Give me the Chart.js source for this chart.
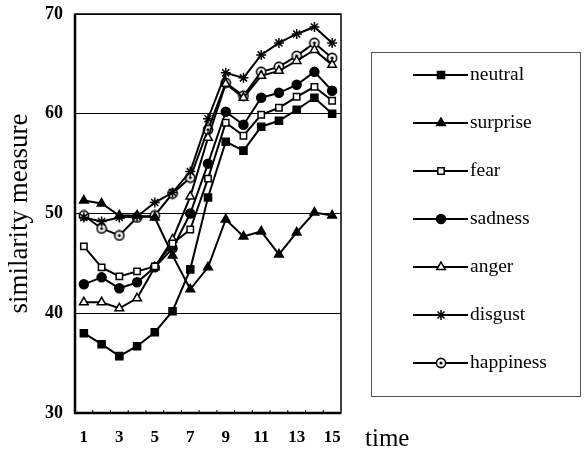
<!DOCTYPE html>
<html>
<head>
<meta charset="utf-8">
<script src="https://cdn.jsdelivr.net/npm/chart.js@4.4.0/dist/chart.umd.min.js"></script>
<style>
  html, body { margin: 0; padding: 0; background: #fff; }
  #wrap { width: 584px; height: 452px; }
</style>
</head>
<body>
<div id="wrap"><canvas id="myChart"></canvas></div>
<script>
// Données
const times = ['1', '2', '3', '4', '5', '6', '7', '8', '9', '10', '11', '12', '13', '14', '15'];
const neutral   = [38.0, 36.9, 35.7, 36.7, 38.1, 40.2, 44.4, 51.6, 57.2, 56.3, 58.7, 59.3, 60.4, 61.6, 60.0];
const surprise  = [51.3, 51.0, 49.8, 49.8, 49.6, 45.8, 42.4, 44.6, 49.4, 47.7, 48.2, 45.9, 48.1, 50.1, 49.8];
const fear      = [46.7, 44.6, 43.7, 44.2, 44.7, 47.0, 48.4, 53.5, 59.1, 57.8, 59.9, 60.6, 61.7, 62.7, 61.3];
const sadness   = [42.9, 43.6, 42.5, 43.1, 44.6, 46.5, 50.0, 55.0, 60.2, 58.9, 61.6, 62.1, 62.9, 64.2, 62.3];
const anger     = [41.1, 41.1, 40.5, 41.5, 44.6, 47.4, 51.7, 57.6, 63.0, 61.6, 63.8, 64.3, 65.3, 66.4, 64.9];
const disgust   = [49.6, 49.2, 49.6, 49.7, 51.1, 52.1, 54.2, 59.5, 64.1, 63.6, 65.9, 67.1, 68.0, 68.7, 67.1];
const happiness = [49.8, 48.5, 47.8, 49.6, 49.8, 52.0, 53.6, 58.4, 63.1, 61.8, 64.2, 64.7, 65.8, 67.1, 65.6];
const yTicks = [30, 40, 50, 60, 70];

const SERIF = '"Liberation Serif", "DejaVu Serif", serif';

// cercle avec un point au centre (happiness)
function dotCircle() {
    const c = document.createElement('canvas');
    c.width = 12; c.height = 12;
    const g = c.getContext('2d');
    g.beginPath(); g.arc(6, 6, 4.6, 0, Math.PI * 2);
    g.fillStyle = '#fff'; g.fill();
    g.lineWidth = 1.6; g.strokeStyle = '#000'; g.stroke();
    g.beginPath(); g.arc(6, 6, 1.6, 0, Math.PI * 2);
    g.fillStyle = '#000'; g.fill();
    return c;
}

function serie(label, values, style, fill, radius) {
    return {
        label: label,
        data: values,
        borderColor: '#000',
        backgroundColor: fill,
        borderWidth: 2,
        pointStyle: style,
        pointRadius: radius,
        pointBorderColor: '#000',
        pointBackgroundColor: fill,
        pointBorderWidth: 1.5,
        tension: 0,
    };
}

const data = {
    labels: times,
    datasets: [
        serie('neutral', neutral, 'rect', '#000', 5),
        serie('surprise', surprise, 'triangle', '#000', 5),
        serie('fear', fear, 'rect', '#fff', 4.5),
        serie('sadness', sadness, 'circle', '#000', 4.5),
        serie('anger', anger, 'triangle', '#fff', 5),
        serie('disgust', disgust, 'star', '#000', 5),
        serie('happiness', happiness, dotCircle(), '#fff', 5),
    ]
};

// cadre, petites graduations, légende encadrée et « time »
const decor = {
    id: 'decor',
    afterDraw(chart) {
        const ctx = chart.ctx;
        const a = chart.chartArea;
        const xs = chart.scales.x;
        ctx.save();
        ctx.strokeStyle = '#000';
        ctx.lineWidth = 1.5;
        ctx.strokeRect(a.left, a.top, a.right - a.left, a.bottom - a.top);
        ctx.lineWidth = 2.5;
        ctx.beginPath();
        ctx.moveTo(a.left, a.top); ctx.lineTo(a.left, a.bottom); ctx.lineTo(a.right, a.bottom);
        ctx.stroke();
        ctx.lineWidth = 1;
        for (let i = 0; i < times.length - 1; i++) {
            const x = (xs.getPixelForValue(i) + xs.getPixelForValue(i + 1)) / 2;
            ctx.beginPath(); ctx.moveTo(x, a.bottom); ctx.lineTo(x, a.bottom - 3); ctx.stroke();
        }
        // libellé de l'axe x
        ctx.fillStyle = '#000';
        ctx.font = '25px ' + SERIF;
        ctx.textBaseline = 'alphabetic';
        ctx.textAlign = 'left';
        ctx.fillText('time', 365, 446);
        // légende
        ctx.lineWidth = 1;
        ctx.strokeStyle = '#555';
        ctx.strokeRect(371.5, 52.5, 209, 344);
        ctx.font = '19.5px ' + SERIF;
        ctx.textBaseline = 'middle';
        chart.data.datasets.forEach((ds, i) => {
            const y = 75 + i * 48;
            ctx.strokeStyle = '#000';
            ctx.lineWidth = 2;
            ctx.beginPath(); ctx.moveTo(413, y); ctx.lineTo(468, y); ctx.stroke();
            ctx.fillStyle = ds.pointBackgroundColor;
            ctx.lineWidth = 1.5;
            Chart.helpers.drawPoint(ctx, {
                pointStyle: ds.pointStyle, rotation: 0, radius: ds.pointRadius, borderWidth: 1.5
            }, 441, y);
            ctx.fillStyle = '#000';
            ctx.fillText(ds.label, 470, y);
        });
        ctx.restore();
    }
};

const config = {
    type: 'line',
    data: data,
    options: {
        responsive: true,
        maintainAspectRatio: false,
        animation: false,
        layout: { padding: { top: 14, right: 243, left: 0, bottom: 0 } },
        scales: {
            x: {
                offset: true,
                grid: { display: false, drawTicks: false },
                border: { display: false },
                afterFit(s) { s.height = 39; s.paddingLeft = 0; s.paddingRight = 0; },
                ticks: {
                    autoSkip: false,
                    maxRotation: 0,
                    padding: 14,
                    color: '#000',
                    font: { family: SERIF, size: 17, weight: 'bold' },
                    callback: (v, i) => (i % 2 === 0 ? times[i] : ''),
                }
            },
            y: {
                min: yTicks[0],
                max: yTicks[yTicks.length - 1],
                afterFit(s) { s.width = 75; s.paddingTop = 0; s.paddingBottom = 0; },
                afterBuildTicks(s) { s.ticks = yTicks.map(v => ({ value: v })); },
                grid: { color: '#000', lineWidth: 1, drawTicks: false },
                border: { display: false },
                ticks: {
                    padding: 12,
                    color: '#000',
                    font: { family: SERIF, size: 18, weight: 'bold' },
                },
                title: {
                    display: true,
                    text: 'similarity measure',
                    color: '#000',
                    font: { family: SERIF, size: 27 },
                    padding: { top: 4, bottom: 0 },
                }
            }
        },
        plugins: {
            legend: { display: false },
            tooltip: { enabled: false },
        }
    },
    plugins: [decor],
};

var myChart = new Chart(document.getElementById('myChart'), config);
</script>
</body>
</html>
